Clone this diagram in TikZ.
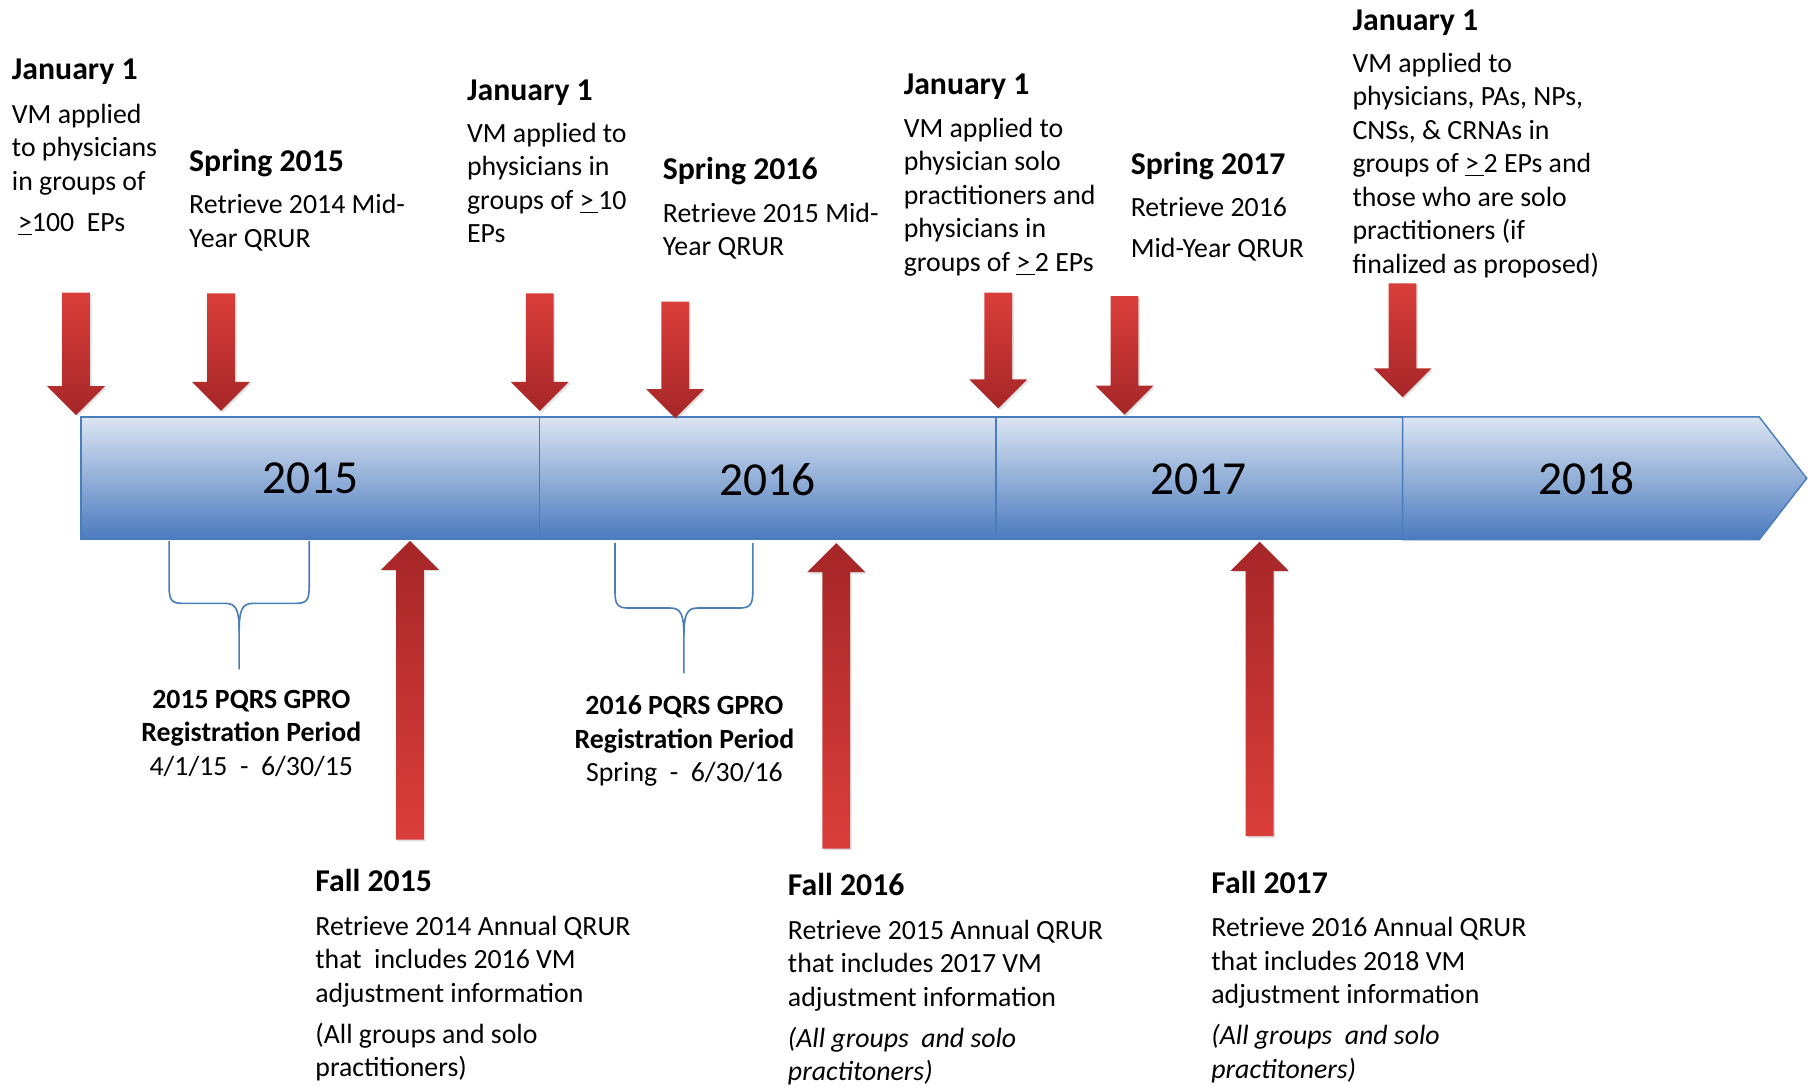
\documentclass[tikz,border=0pt]{standalone}
\usepackage{fontspec}
\setmainfont{Carlito}
\usetikzlibrary{shadows}
\definecolor{barlight}{RGB}{220,229,242}
\definecolor{bardark}{RGB}{74,122,190}
\definecolor{barline}{RGB}{74,126,187}
\definecolor{arrlight}{RGB}{218,62,58}
\definecolor{arrdark}{RGB}{166,38,40}
\tikzset{
  yearbar/.style={draw=barline, line width=0.7pt, top color=barlight, bottom color=bardark},
  yearlabel/.style={inner sep=0pt, font=\fontsize{23.3}{28}\selectfont},
  downshaft/.style={draw=none, top color=arrlight, bottom color=arrdark,
    drop shadow={shadow xshift=0.8pt, shadow yshift=-0.8pt, opacity=0.25}},
  upshaft/.style={draw=none, top color=arrdark, bottom color=arrlight,
    drop shadow={shadow xshift=0.8pt, shadow yshift=-0.8pt, opacity=0.25}},
  heading/.style={anchor=base west, inner sep=0pt, font=\fontsize{15.6}{18}\selectfont\bfseries},
  bodytext/.style={anchor=north west, inner sep=0pt, align=left, font=\fontsize{13.66}{16.5}\selectfont},
  reglabel/.style={anchor=north, inner sep=0pt, align=center, font=\fontsize{13.66}{16.5}\selectfont},
  regbrace/.style={draw=barline, line width=0.8pt}
}
\newcommand{\tlstrut}{\rule{0pt}{0.9em}}
% red marker arrows: x, tail y, tip y
\newcommand{\tickdown}[3]{%
  \draw[downshaft] ({#1-12},#2) -- ({#1+12},#2) -- ({#1+12},{#3-25}) -- ({#1+25},{#3-25})
    -- (#1,#3) -- ({#1-25},{#3-25}) -- ({#1-12},{#3-25}) -- cycle;}
\newcommand{\tickup}[3]{%
  \draw[upshaft] ({#1-12},#2) -- ({#1+12},#2) -- ({#1+12},{#3+25}) -- ({#1+25},{#3+25})
    -- (#1,#3) -- ({#1-25},{#3+25}) -- ({#1-12},{#3+25}) -- cycle;}

\begin{document}
\begin{tikzpicture}[x=0.02cm, y=-0.02cm]
  \useasboundingbox (0,0) rectangle (1568,938);

  % Year bar
  \draw[yearbar] (70,360) rectangle (466,466);
  \draw[yearbar] (466,360) rectangle (860,466);
  \draw[yearbar] (860,360) rectangle (1211,466);
  \draw[yearbar] (1211,360) -- (1519,360) -- (1560,413) -- (1519,466) -- (1211,466) -- cycle;
  \node[yearlabel] (y2015) at (268,413) {2015};
  \node[yearlabel] (y2016) at (663,414) {2016};
  \node[yearlabel] (y2017) at (1035,414) {2017};
  \node[yearlabel] (y2018) at (1370,413) {2018};

  % Registration braces
  \draw[regbrace] (146,467) -- (146,506) .. controls (146,518) and (148,521) .. (158,521) -- (195,521)
    .. controls (204,521) and (206.5,527) .. (206.5,545) -- (206.5,578);
  \draw[regbrace] (267,467) -- (267,506) .. controls (267,518) and (265,521) .. (255,521) -- (218,521)
    .. controls (209,521) and (206.5,527) .. (206.5,545);
  \draw[regbrace] (531,469) -- (531,510) .. controls (531,522) and (533,525) .. (543,525) -- (579,525)
    .. controls (588,525) and (590.5,531) .. (590.5,549) -- (590.5,581.5);
  \draw[regbrace] (650,469) -- (650,510) .. controls (650,522) and (648,525) .. (638,525) -- (602,525)
    .. controls (593,525) and (590.5,531) .. (590.5,549);

  % Arrows above the bar
  \tickdown{65.6}{252.7}{358.4}
  \tickdown{190.8}{253.3}{354.7}
  \tickdown{466}{253.3}{354.7}
  \tickdown{583}{260.5}{361}
  \tickdown{862}{252.7}{352.6}
  \tickdown{971}{255.6}{358}
  \tickdown{1211}{244.7}{343}

  % Arrows below the bar
  \tickup{354}{725}{467}
  \tickup{722}{732.7}{469}
  \tickup{1087.6}{722}{467.8}

  % Top texts
  \node[heading] (jan15) at (10,69) {January 1};
  \node[bodytext] (jan15txt) at (10,84.4) {\tlstrut VM applied\\to physicians\\in groups of\\[3.6pt]
    \hspace{3pt}\underline{>}100\ \ EPs};
  \node[heading] (spr15) at (163,148) {Spring 2015};
  \node[bodytext] (spr15txt) at (163,162.4) {\tlstrut Retrieve 2014 Mid-\\Year QRUR};
  \node[heading] (jan16) at (403,86.4) {January 1};
  \node[bodytext] (jan16txt) at (403,100.7) {\tlstrut VM applied to\\physicians in\\
    groups of \underline{>\,}10\\EPs};
  \node[heading] (spr16) at (572,155.4) {Spring 2016};
  \node[bodytext] (spr16txt) at (572,169.8) {\tlstrut Retrieve 2015 Mid-\\Year QRUR};
  \node[heading] (jan17) at (780,82) {January 1};
  \node[bodytext] (jan17txt) at (780,96.4) {\tlstrut VM applied to\\physician solo\\
    practitioners and\\physicians in\\groups of \underline{>\,}2 EPs};
  \node[heading] (spr17) at (976,151) {Spring 2017};
  \node[bodytext] (spr17txt) at (976,165.4) {\tlstrut Retrieve 2016\\[3.2pt]Mid-Year QRUR};
  \node[heading] (jan18) at (1167.5,26) {January 1};
  \node[bodytext] (jan18txt) at (1167.5,40.3) {\tlstrut VM applied to\\physicians, PAs, NPs,\\
    CNSs, \& CRNAs in\\groups of \underline{>\,}2 EPs and\\those who are solo\\
    practitioners (if\\finalized as proposed)};

  % Registration periods
  \node[reglabel] (reg15) at (217,589.4) {\tlstrut\textbf{2015 PQRS GPRO}\\
    \textbf{Registration Period}\\4/1/15\ \ -\ \ 6/30/15};
  \node[reglabel] (reg16) at (591,594.9) {\tlstrut\textbf{2016 PQRS GPRO}\\
    \textbf{Registration Period}\\Spring\ \ -\ \ 6/30/16};

  % Bottom texts
  \node[heading] (fall15) at (272,770) {Fall 2015};
  \node[bodytext] (fall15txt) at (272,785.4) {\tlstrut Retrieve 2014 Annual QRUR\\
    that\ \ includes 2016 VM\\adjustment information\\[3.6pt]
    (All groups and solo\\practitioners)};
  \node[heading] (fall16) at (680,773) {Fall 2016};
  \node[bodytext] (fall16txt) at (680,789.1) {\tlstrut Retrieve 2015 Annual QRUR\\
    that includes 2017 VM\\adjustment information\\[3.6pt]
    \textit{(All groups\ \ and solo}\\\textit{practitoners)}};
  \node[heading] (fall17) at (1045.6,771.7) {Fall 2017};
  \node[bodytext] (fall17txt) at (1045.6,786.7) {\tlstrut Retrieve 2016 Annual QRUR\\
    that includes 2018 VM\\adjustment information\\[3.6pt]
    \textit{(All groups\ \ and solo}\\\textit{practitoners)}};
\end{tikzpicture}
\end{document}
